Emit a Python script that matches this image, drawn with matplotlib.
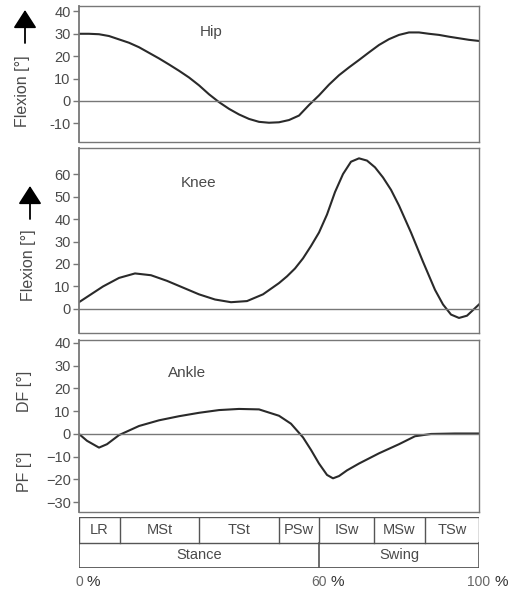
import matplotlib
matplotlib.use("Agg")
import matplotlib.pyplot as plt

plt.rcParams["font.family"] = ["Liberation Sans", "DejaVu Sans"]

# gait cycle [%] and joint angles [deg]
hip_x = [0, 2.5, 5, 7.5, 10, 12.5, 15, 17.5, 20, 22.5, 25, 27.5, 30, 32.5, 35, 37.5, 40,
         42.5, 45, 47.5, 50, 52.5, 55, 57.5, 60, 62.5, 65, 67.5, 70, 72.5, 75, 77.5, 80,
         82.5, 85, 87.5, 90, 92.5, 95, 97.5, 100]
hip_y = [30, 30, 29.8, 29, 27.5, 26, 24, 21.5, 19, 16.3, 13.5, 10.5, 7, 3, -0.5, -3.5, -6,
         -8, -9.3, -9.7, -9.5, -8.5, -6.5, -1.8, 2.5, 7.3, 11.5, 15, 18.3, 21.7, 25, 27.6, 29.5,
         30.6, 30.6, 30, 29.5, 28.7, 28, 27.3, 26.8]

knee_x = [0, 3, 6, 10, 14, 18, 22, 26, 30, 34, 38, 42, 46, 50, 52, 54, 56, 58, 60, 62, 64,
          66, 68, 70, 72, 74, 76, 78, 80, 83, 86, 89, 91, 93, 95, 97, 100]
knee_y = [3, 6.5, 10, 13.8, 15.8, 15, 12.5, 9.5, 6.5, 4.2, 3, 3.5, 6.5, 11.5, 14.5, 18,
          22.5, 28, 34, 42, 52, 60, 65.5, 67, 66, 63, 58.5, 53, 46, 34, 21, 8.5, 2, -2.5,
          -4, -3, 2]

ankle_x = [0, 2, 5, 7, 10, 15, 20, 25, 30, 35, 40, 45, 50, 53, 56, 58, 60, 62, 63.5, 65,
           67, 70, 75, 80, 84, 88, 94, 100]
ankle_y = [0, -3, -6, -4.5, -0.5, 3.5, 6, 7.8, 9.3, 10.5, 11, 10.8, 8, 4.5, -1.5, -7, -13,
           -18, -19.5, -18.5, -16, -13, -8.5, -4.5, -1, 0, 0.2, 0.2]

hip_ticks = [40, 30, 20, 10, 0, -10]
hip_labels = ["40", "30", "20", "10", "0", "-10"]
knee_ticks = [60, 50, 40, 30, 20, 10, 0]
ankle_ticks = [40, 30, 20, 10, 0, -10, -20, -30]
ankle_labels = ["40", "30", "20", "10", "0", "\u221210", "\u221220", "\u221230"]

phases = ["LR", "MSt", "TSt", "PSw", "ISw", "MSw", "TSw"]
phase_edges = [0, 10.25, 30, 50, 60, 73.75, 86.5, 100]
periods = ["Stance", "Swing"]
period_edges = [0, 60, 100]
pct_ticks = [0, 60, 100]

txt = "#4a4a4a"
frame = "#777777"
curve = "#2a2a2a"

fig = plt.figure(figsize=(5.16, 5.94), dpi=100)
left, width = 79 / 516, 400 / 516


def panel(top, bottom, ylim, ticks, labels, x, y, name, name_xy):
    ax = fig.add_axes([left, 1 - bottom / 594, width, (bottom - top) / 594])
    ax.plot(x, y, color=curve, lw=1.5)
    ax.axhline(0, color=frame, lw=1)
    ax.set_xlim(0, 100)
    ax.set_ylim(*ylim)
    ax.set_xticks([])
    ax.set_yticks(ticks)
    ax.set_yticklabels(labels)
    ax.tick_params(axis="y", direction="out", length=4, width=1, color=frame,
                   labelsize=10.5, labelcolor=txt, pad=2)
    for s in ax.spines.values():
        s.set_color(frame)
        s.set_linewidth(1)
    ax.spines["left"].set_linewidth(1.3)
    ax.text(name_xy[0], name_xy[1], name, ha="center", va="center",
            fontsize=11, color=txt)
    return ax


panel(6, 142, (-18.3, 42.4), hip_ticks, hip_labels, hip_x, hip_y, "Hip", (33, 31))
panel(148, 333, (-10.7, 71.6), knee_ticks, [str(t) for t in knee_ticks],
      knee_x, knee_y, "Knee", (30, 56))
panel(340, 512, (-34.3, 41.3), ankle_ticks, ankle_labels,
      ankle_x, ankle_y, "Ankle", (27, 27))


def fig_text(px, py, s, **kw):
    fig.text(px / 516, 1 - py / 594, s, color=txt, **kw)


def up_arrow(px, y0, y1):
    fig.patches.append(matplotlib.patches.FancyArrowPatch(
        (px / 516, 1 - y1 / 594), (px / 516, 1 - y0 / 594),
        transform=fig.transFigure, arrowstyle="-|>,head_length=7,head_width=4.5",
        mutation_scale=1.6, color="black", lw=1.3, shrinkA=0, shrinkB=0))


# y-axis labels
fig_text(22, 91, "Flexion [\u00b0]", rotation=90, ha="center", va="center", fontsize=11.5)
up_arrow(25, 10, 43)
fig_text(28, 265, "Flexion [\u00b0]", rotation=90, ha="center", va="center", fontsize=11.5)
up_arrow(30, 186, 219)
fig_text(24, 391, "DF [\u00b0]", rotation=90, ha="center", va="center", fontsize=11.5)
fig_text(24, 472, "PF [\u00b0]", rotation=90, ha="center", va="center", fontsize=11.5)

# phase table
tab = fig.add_axes([left, 1 - 568 / 594, width, (568 - 517) / 594])
tab.set_xlim(0, 100)
tab.set_ylim(0, 2)
tab.axis("off")
lc = "#555555"
tab.plot([0, 100], [2, 2], color=lc, lw=1)
tab.plot([0, 100], [1, 1], color=lc, lw=1)
tab.plot([0, 100], [0, 0], color=lc, lw=1.3)
for e in phase_edges:
    tab.plot([e, e], [1, 2], color=lc, lw=1)
for i, p in enumerate(phases):
    tab.text((phase_edges[i] + phase_edges[i + 1]) / 2, 1.5, p, ha="center",
             va="center", fontsize=10.5, color=txt)
for e in period_edges:
    tab.plot([e, e], [-0.18, 1], color=lc, lw=1.2)
for i, p in enumerate(periods):
    tab.text((period_edges[i] + period_edges[i + 1]) / 2, 0.5, p, ha="center",
             va="center", fontsize=10.5, color=txt)

for v in pct_ticks:
    tab.text(v, -0.55, str(v), ha="center", va="center", fontsize=10, color="#666666")
    tab.annotate("%", (v, -0.55), xytext=(len(str(v)) * 2.9 + 2.5, 0),
                 textcoords="offset points", ha="left", va="center",
                 fontsize=11, color="#333333", annotation_clip=False)

fig.savefig("out.png", dpi=100)
